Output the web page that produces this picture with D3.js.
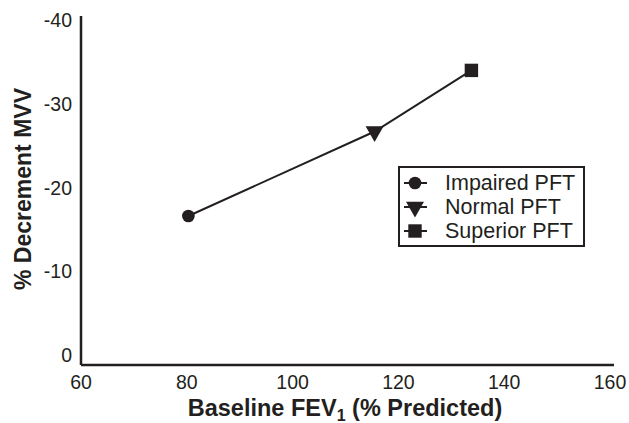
<!DOCTYPE html>
<html>
<head>
<meta charset="utf-8">
<script src="https://cdn.jsdelivr.net/npm/d3@7"></script>
<style>
  body { margin: 0; background: #fff; }
  svg { font-family: "Liberation Sans", Arial, sans-serif; }
</style>
</head>
<body>
<div id="chart"></div>
<script>
// data
const groups = ["Impaired PFT", "Normal PFT", "Superior PFT"];
const fev1 = [80.3, 115.5, 133.8];
const decrement = [-16.6, -26.7, -34.0];
const shapes = [d3.symbolCircle, d3.symbolTriangle, d3.symbolSquare];
const xTicks = [60, 80, 100, 120, 140, 160];
const yTicks = [0, -10, -20, -30, -40];

const width = 629, height = 423;
const ink = "#231f20";

const svg = d3.select("#chart")
  .append("svg")
  .attr("width", width)
  .attr("height", height);

// scales
const x = d3.scaleLinear().domain([60, 160]).range([81, 610]);
const y = d3.scaleLinear().domain([1.2, -40.5]).range([365, 16]);

// axes lines (no tick marks in the original)
svg.append("line")
  .attr("x1", x(60)).attr("x2", 614)
  .attr("y1", y(1.2)).attr("y2", y(1.2))
  .attr("stroke", ink).attr("stroke-width", 2.5);
svg.append("line")
  .attr("x1", x(60)).attr("x2", x(60))
  .attr("y1", y(1.2)).attr("y2", y(-40.5))
  .attr("stroke", ink).attr("stroke-width", 2.5);

// tick labels
svg.selectAll(".xt")
  .data(xTicks)
  .join("text")
  .attr("x", d => x(d))
  .attr("y", 389)
  .attr("text-anchor", "middle")
  .attr("font-size", "19.5px")
  .attr("fill", ink)
  .text(d => d);

svg.selectAll(".yt")
  .data(yTicks)
  .join("text")
  .attr("x", 72)
  .attr("y", d => y(d) + 7)
  .attr("text-anchor", "end")
  .attr("font-size", "19.5px")
  .attr("fill", ink)
  .text(d => d);

// axis titles
const xt = svg.append("text")
  .attr("x", 345)
  .attr("y", 416)
  .attr("text-anchor", "middle")
  .attr("font-size", "23.5px")
  .attr("font-weight", "bold")
  .attr("fill", ink);
xt.append("tspan").text("Baseline FEV");
xt.append("tspan").attr("font-size", "16px").attr("dy", 5).text("1");
xt.append("tspan").attr("dy", -5).text(" (% Predicted)");

svg.append("text")
  .attr("transform", "translate(31,189) rotate(-90)")
  .attr("text-anchor", "middle")
  .attr("font-size", "23px")
  .attr("font-weight", "bold")
  .attr("fill", ink)
  .text("% Decrement MVV");

// line + markers
const pts = fev1.map((v, i) => [v, decrement[i]]);
svg.append("path")
  .datum(pts)
  .attr("fill", "none")
  .attr("stroke", ink)
  .attr("stroke-width", 2)
  .attr("d", d3.line().x(d => x(d[0])).y(d => y(d[1])));

const symSize = [125, 140, 180];
svg.selectAll(".mk")
  .data(pts)
  .join("path")
  .attr("transform", (d, i) => `translate(${x(d[0])},${y(d[1])})` + (i === 1 ? " rotate(180)" : ""))
  .attr("d", (d, i) => d3.symbol(shapes[i], symSize[i])())
  .attr("fill", ink);

// legend
const lg = svg.append("g").attr("transform", "translate(399,167)");
lg.append("rect")
  .attr("width", 185).attr("height", 79)
  .attr("fill", "#fff")
  .attr("stroke", ink)
  .attr("stroke-width", 2);

const item = lg.selectAll(".li")
  .data(groups)
  .join("g")
  .attr("transform", (d, i) => `translate(0,${16 + i * 24})`);

item.append("line")
  .attr("x1", 5).attr("x2", 28)
  .attr("stroke", ink).attr("stroke-width", 2);
item.append("path")
  .attr("transform", (d, i) => "translate(16,0)" + (i === 1 ? " rotate(180)" : ""))
  .attr("d", (d, i) => d3.symbol(shapes[i], symSize[i])())
  .attr("fill", ink);
item.append("text")
  .attr("x", 46)
  .attr("y", 7)
  .attr("font-size", "21.5px")
  .attr("fill", ink)
  .text(d => d);
</script>
</body>
</html>
